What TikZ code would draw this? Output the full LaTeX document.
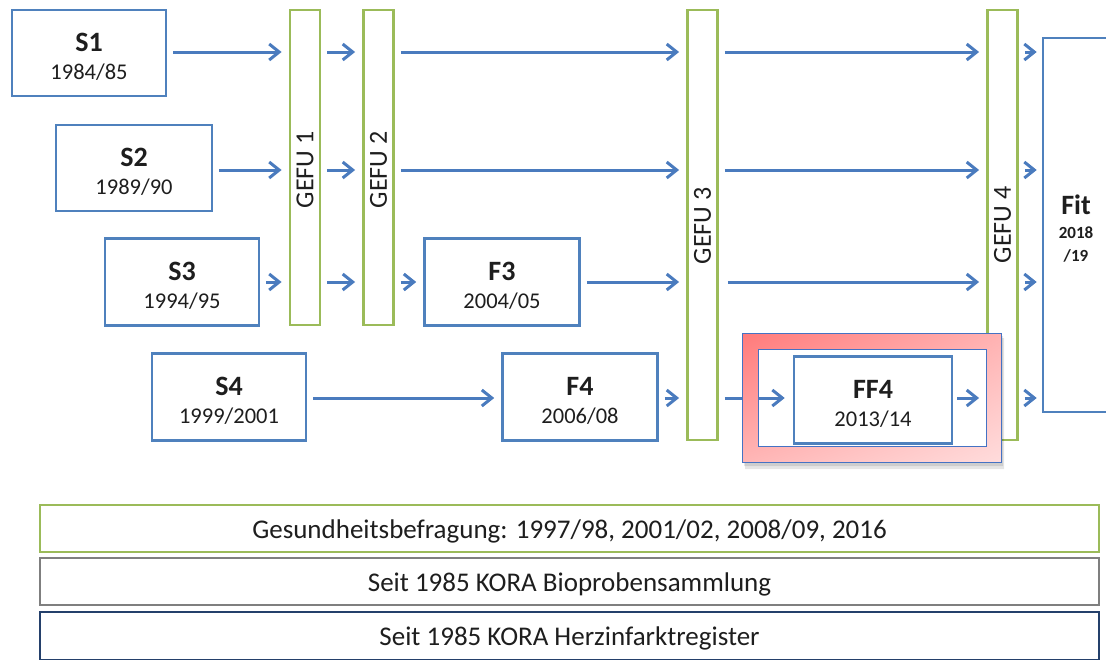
\documentclass[tikz,border=0pt]{standalone}
\usepackage{fontspec}
\setmainfont{Carlito}
\usetikzlibrary{arrows.meta,shadings}
\definecolor{bblue}{HTML}{4F81BD}
\definecolor{ablue}{HTML}{4A7BBE}
\definecolor{ggreen}{HTML}{9BBB59}
\definecolor{ggrey}{HTML}{7F7F7F}
\definecolor{nnavy}{HTML}{24406B}
\definecolor{txt}{HTML}{1E1E1E}
\definecolor{hlblue}{HTML}{4472C4}
\definecolor{hlUL}{HTML}{FF7A7A}
\definecolor{hlUR}{HTML}{FFB2B2}
\definecolor{hlLL}{HTML}{FFB6B6}
\definecolor{hlLR}{HTML}{FFDCDC}
\tikzset{
  wave/.style={draw=bblue, line width=2.6pt, fill=white, inner sep=0pt},
  wtext/.style={align=center, text=txt, inner sep=0pt, font=\fontsize{22.5}{28}\selectfont, yshift=-4pt},
  gefu/.style={draw=ggreen, line width=2.8pt, fill=white, inner sep=0pt, minimum width=30pt},
  gtext/.style={rotate=90, font=\fontsize{26}{28}\selectfont, text=txt},
  flow/.style={draw=ablue, line width=3pt, -{Straight Barb[length=10pt,width=16pt,line width=3pt]}, shorten <=6pt, shorten >=7pt},
  bar/.style={line width=2.8pt, fill=white, minimum width=1059pt, minimum height=47pt, inner sep=0pt, text=txt, text height=19pt, text depth=0pt, font=\fontsize{27}{29}\selectfont},
}
\newcommand{\wbox}[2]{{\fontsize{28}{28}\selectfont\bfseries #1}\\#2}
\begin{document}
\begin{tikzpicture}[x=1pt,y=-1pt]
\clip (0,0) rectangle (1106,659);
\fill[white] (0,0) rectangle (1106,659);

% row coordinates
\coordinate (r1) at (0,52);
\coordinate (r2) at (0,170);
\coordinate (r3) at (0,282);
\coordinate (r4) at (0,398);

% wave boxes
\node[wave, minimum width=154pt, minimum height=86pt] (S1) at (89,53) {};
\node[wtext] (S1t) at (S1.center) {\wbox{S1}{1984/85}};
\node[wave, minimum width=156pt, minimum height=86pt] (S2) at (134,168) {};
\node[wtext] (S2t) at (S2.center) {\wbox{S2}{1989/90}};
\node[wave, minimum width=154pt, minimum height=87pt] (S3) at (182,282) {};
\node[wtext] (S3t) at (S3.center) {\wbox{S3}{1994/95}};
\node[wave, minimum width=154pt, minimum height=87pt] (S4) at (229,397) {};
\node[wtext] (S4t) at (S4.center) {\wbox{S4}{1999/2001}};
\node[wave, minimum width=155pt, minimum height=87pt] (F3) at (502,282) {};
\node[wtext] (F3t) at (F3.center) {\wbox{F3}{2004/05}};
\node[wave, minimum width=155pt, minimum height=87pt] (F4) at (580,397) {};
\node[wtext] (F4t) at (F4.center) {\wbox{F4}{2006/08}};

% GEFU bars
\node[gefu, minimum height=315pt] (G1) at (305,167.5) {};
\node[gtext] (G1t) at (G1 |- 0,170) {GEFU 1};
\node[gefu, minimum height=315pt] (G2) at (378.5,167.5) {};
\node[gtext] (G2t) at (G2 |- 0,170) {GEFU 2};
\node[gefu, minimum height=430pt] (G3) at (702.5,225) {};
\node[gtext] (G3t) at (G3 |- 0,226) {GEFU 3};
\node[gefu, minimum height=430pt] (G4) at (1002.5,225) {};
\node[gtext] (G4t) at (G4 |- 0,225) {GEFU 4};

% Fit box
\node[draw=bblue, line width=2.6pt, fill=white, minimum width=90pt, minimum height=374pt, inner sep=0pt] (Fit) at (1088,225) {};
\node[align=center, text=txt, inner sep=0pt, font=\fontsize{17}{23.5}\selectfont\bfseries] (Fitt) at (1076,229) {{\fontsize{28}{28}\selectfont Fit}\\2018\\/19};

% row 1
\draw[flow] (S1.east |- r1) -- (G1.west |- r1);
\draw[flow] (G1.east |- r1) -- (G2.west |- r1);
\draw[flow] (G2.east |- r1) -- (G3.west |- r1);
\draw[flow] (G3.east |- r1) -- (G4.west |- r1);
\draw[flow, shorten >=5pt] (G4.east |- r1) -- (Fit.west |- r1);
% row 2
\draw[flow] (S2.east |- r2) -- (G1.west |- r2);
\draw[flow] (G1.east |- r2) -- (G2.west |- r2);
\draw[flow] (G2.east |- r2) -- (G3.west |- r2);
\draw[flow] (G3.east |- r2) -- (G4.west |- r2);
\draw[flow, shorten >=5pt] (G4.east |- r2) -- (Fit.west |- r2);
% row 3
\draw[flow] (S3.east |- r3) -- (G1.west |- r3);
\draw[flow] (G1.east |- r3) -- (G2.west |- r3);
\draw[flow] (G2.east |- r3) -- (F3.west |- r3);
\draw[flow] (F3.east |- r3) -- (G3.west |- r3);
\draw[flow, shorten <=9pt] (G3.east |- r3) -- (G4.west |- r3);
\draw[flow, shorten >=5pt] (G4.east |- r3) -- (Fit.west |- r3);

% highlight frame shadow
\coordinate (hlA) at (742,333);
\coordinate (hlB) at (1001,462);
\coordinate (hlC) at (758,349);
\coordinate (hlD) at (986,446);
\fill[even odd rule, black, opacity=0.10] (745,338) rectangle (1004,469) (hlA) rectangle (hlB);
\fill[even odd rule, black, opacity=0.10] (744,336) rectangle (1003,466) (hlA) rectangle (hlB);

% row 4
\node[wave, minimum width=158pt, minimum height=87pt] (FF4) at (873,400) {};
\node[wtext] (FF4t) at (FF4.center) {\wbox{FF4}{2013/14}};
\draw[flow] (S4.east |- r4) -- (F4.west |- r4);
\draw[flow] (F4.east |- r4) -- (G3.west |- r4);
\draw[flow, shorten >=8pt] (G3.east |- r4) -- (FF4.west |- r4);
\draw[flow, shorten <=4pt] (FF4.east |- r4) -- (G4.west |- r4);
\draw[flow, shorten >=5pt] (G4.east |- r4) -- (Fit.west |- r4);

% highlight frame around FF4
\shade[even odd rule, upper left=hlUL, upper right=hlUR, lower left=hlLL, lower right=hlLR]
  (hlA) rectangle (hlB) (hlC) rectangle (hlD);
\draw[hlblue, line width=1pt] (hlA) rectangle (hlB);
\draw[hlblue, line width=1pt] (hlC) rectangle (hlD);

% bottom bars
\node[bar, draw=ggreen] (B1) at (569.5,528.5) {Gesundheitsbefragung: 1997/98, 2001/02, 2008/09, 2016};
\node[bar, draw=ggrey] (B2) at (569.5,581.5) {Seit 1985 KORA Bioprobensammlung};
\node[bar, draw=nnavy, minimum height=48pt] (B3) at (569.5,636) {Seit 1985 KORA Herzinfarktregister};
\end{tikzpicture}
\end{document}
